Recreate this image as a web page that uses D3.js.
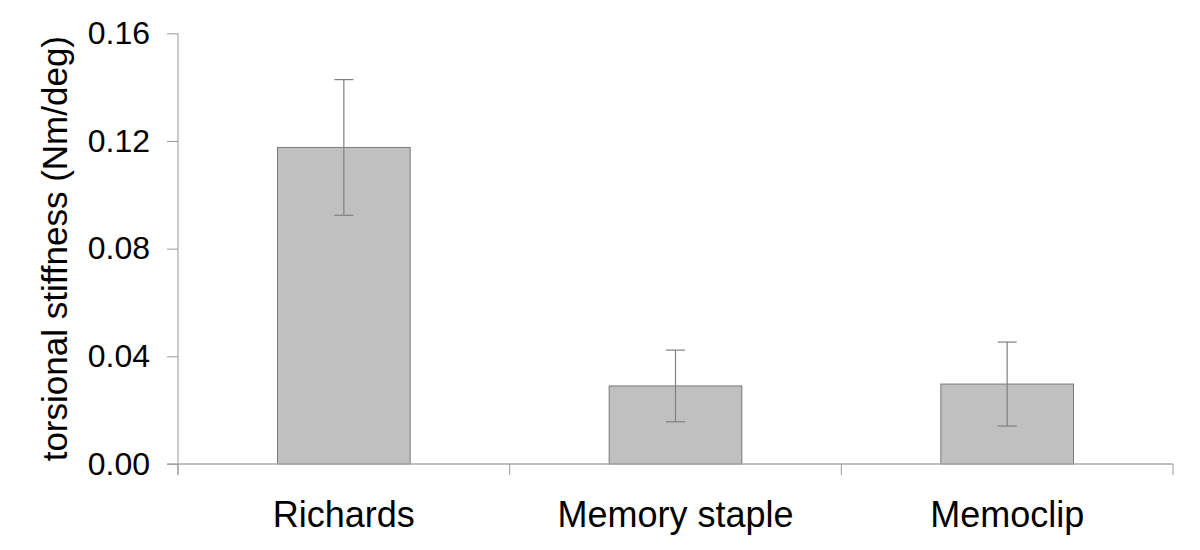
<!DOCTYPE html>
<html>
<head>
<meta charset="utf-8">
<script src="https://cdn.jsdelivr.net/npm/d3@7"></script>
<style>
  html, body { margin: 0; padding: 0; background: #fff; }
  svg { display: block; font-family: "Liberation Sans", Arial, sans-serif; }
</style>
</head>
<body>
<svg id="chart" width="1200" height="550"></svg>
<script>
const categories = ["Richards", "Memory staple", "Memoclip"];
const means = [0.1176, 0.0290, 0.0297];
const errors = [0.0252, 0.0133, 0.0156];
const yTicks = [0.00, 0.04, 0.08, 0.12, 0.16];
const yTitle = "torsional stiffness (Nm/deg)";

(function () {
const svg = d3.select("#chart");
const mLeft = 178, mRight = 1173, mTop = 33.3, mBottom = 464;

const x = d3.scaleBand().domain(categories).range([mLeft, mRight]).padding(0);
const y = d3.scaleLinear().domain([0, 0.16]).range([mBottom, mTop]);

const barW = x.bandwidth() * 0.4;
const axisColor = "#999";

// bars
svg.append("g").selectAll("rect").data(categories).join("rect")
  .attr("x", (d) => x(d) + (x.bandwidth() - barW) / 2)
  .attr("y", (d, i) => y(means[i]))
  .attr("width", barW)
  .attr("height", (d, i) => y(0) - y(means[i]))
  .attr("fill", "#c0c0c0")
  .attr("stroke", "#7a7a7a")
  .attr("stroke-width", 1);

// error bars
const eg = svg.append("g").attr("stroke", "#808080").attr("stroke-width", 1.2);
categories.forEach((c, i) => {
  const cx = x(c) + x.bandwidth() / 2;
  const hi = y(means[i] + errors[i]), lo = y(means[i] - errors[i]);
  eg.append("line").attr("x1", cx).attr("x2", cx).attr("y1", hi).attr("y2", lo);
  eg.append("line").attr("x1", cx - 9.5).attr("x2", cx + 9.5).attr("y1", hi).attr("y2", hi);
  eg.append("line").attr("x1", cx - 9.5).attr("x2", cx + 9.5).attr("y1", lo).attr("y2", lo);
});

// y axis
const yAxis = svg.append("g").attr("transform", `translate(${mLeft},0)`)
  .call(d3.axisLeft(y).tickValues(yTicks).tickFormat(d3.format(".2f")).tickSize(11).tickSizeOuter(0).tickPadding(17));
yAxis.select(".domain").remove();
yAxis.selectAll(".tick line").attr("stroke", axisColor);
yAxis.selectAll(".tick text").attr("font-size", 32).attr("fill", "#000").attr("font-family", "Liberation Sans, Arial, sans-serif");
svg.append("line").attr("x1", mLeft).attr("x2", mLeft).attr("y1", mTop).attr("y2", mBottom + 11)
  .attr("stroke", axisColor).attr("stroke-width", 1);

// x axis line + boundary ticks
svg.append("line").attr("x1", mLeft - 11).attr("x2", mRight).attr("y1", mBottom).attr("y2", mBottom)
  .attr("stroke", "#aaa").attr("stroke-width", 1.5);
const boundaries = categories.map((c) => x(c)).concat([mRight]);
svg.append("g").selectAll("line").data(boundaries).join("line")
  .attr("x1", (d) => d).attr("x2", (d) => d)
  .attr("y1", mBottom).attr("y2", mBottom + 11)
  .attr("stroke", axisColor).attr("stroke-width", 1);

const xAxis = svg.append("g").attr("transform", `translate(0,${mBottom})`)
  .call(d3.axisBottom(x).tickSize(0).tickPadding(37.5));
xAxis.select(".domain").remove();
xAxis.selectAll(".tick text").attr("font-size", 36).attr("fill", "#000").attr("font-family", "Liberation Sans, Arial, sans-serif");

// y title
svg.append("text")
  .attr("transform", `translate(67,${(mTop + mBottom) / 2}) rotate(-90)`)
  .attr("text-anchor", "middle")
  .attr("font-size", 35)
  .attr("fill", "#000")
  .text(yTitle);
})();
</script>
</body>
</html>
